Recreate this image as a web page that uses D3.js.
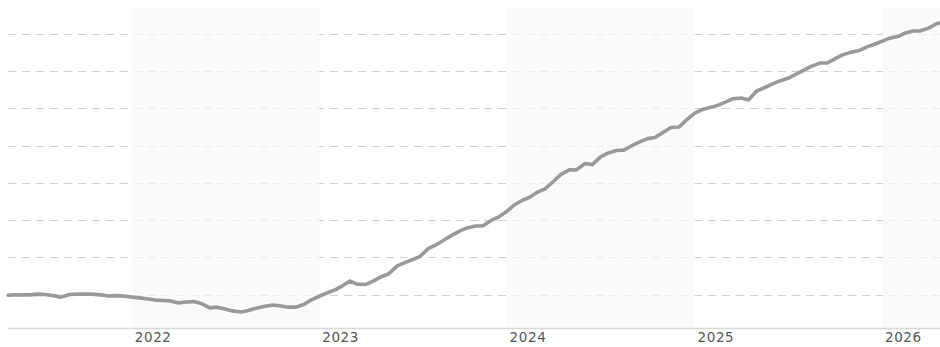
<!DOCTYPE html>
<html>
<head>
<meta charset="utf-8">
<script src="https://cdn.jsdelivr.net/npm/d3@7"></script>
<style>
  body { margin: 0; background: #fff; }
  svg { display: block; }
</style>
</head>
<body>
<div id="chart"></div>
<script>
// Dates of the readings (semi-monthly)
var dates = [
  "2021-05-04","2021-05-15","2021-06-01","2021-06-15","2021-07-01","2021-07-15","2021-08-01","2021-08-15",
  "2021-09-01","2021-09-15","2021-10-01","2021-10-15","2021-11-01","2021-11-15","2021-12-01","2021-12-15",
  "2022-01-01","2022-01-15","2022-02-01","2022-02-15","2022-03-01","2022-03-15","2022-04-01","2022-04-15",
  "2022-05-01","2022-05-15","2022-06-01","2022-06-15","2022-07-01","2022-07-15","2022-08-01","2022-08-15",
  "2022-09-01","2022-09-15","2022-10-01","2022-10-15","2022-11-01","2022-11-15","2022-12-01","2022-12-15",
  "2023-01-01","2023-01-15","2023-02-01","2023-02-15","2023-03-01","2023-03-15","2023-04-01","2023-04-15",
  "2023-05-01","2023-05-15","2023-06-01","2023-06-15","2023-07-01","2023-07-15","2023-08-01","2023-08-15",
  "2023-09-01","2023-09-15","2023-10-01","2023-10-15","2023-11-01","2023-11-15","2023-12-01","2023-12-15",
  "2024-01-01","2024-01-15","2024-02-01","2024-02-15","2024-03-01","2024-03-15","2024-04-01","2024-04-15",
  "2024-05-01","2024-05-15","2024-06-01","2024-06-15","2024-07-01","2024-07-15","2024-08-01","2024-08-15",
  "2024-09-01","2024-09-15","2024-10-01","2024-10-15","2024-11-01","2024-11-15","2024-12-01","2024-12-15",
  "2025-01-01","2025-01-15","2025-02-01","2025-02-15","2025-03-01","2025-03-15","2025-04-01","2025-04-15",
  "2025-05-01","2025-05-15","2025-06-01","2025-06-15","2025-07-01","2025-07-15","2025-08-01","2025-08-15",
  "2025-09-01","2025-09-15","2025-10-01","2025-10-15","2025-11-01","2025-11-15","2025-12-01","2025-12-15",
  "2026-01-01","2026-01-15","2026-02-01","2026-02-15","2026-03-01","2026-03-15","2026-04-01","2026-04-15",
  "2026-04-22"
];

// Cumulative change (%) at each date
var values = [
  -0.2, -0.1, -0.1, -0.1, 0.1, 0.0, -0.3, -0.7,
  0.0, 0.1, 0.1, 0.1, -0.1, -0.4, -0.3, -0.4,
  -0.7, -0.9, -1.2, -1.5, -1.6, -1.7, -2.3, -2.0,
  -1.9, -2.4, -3.6, -3.4, -3.9, -4.4, -4.7, -4.3,
  -3.6, -3.2, -2.8, -3.0, -3.4, -3.4, -2.7, -1.5,
  -0.4, 0.4, 1.3, 2.4, 3.6, 2.8, 2.7, 3.6,
  4.8, 5.5, 7.7, 8.5, 9.4, 10.2, 12.4, 13.3,
  14.7, 15.9, 17.1, 17.9, 18.4, 18.5, 19.9, 20.8,
  22.4, 24.1, 25.4, 26.2, 27.6, 28.4, 30.5, 32.3,
  33.5, 33.5, 35.2, 34.9, 37.0, 38.0, 38.7, 38.8,
  40.1, 41.0, 41.9, 42.2, 43.7, 44.9, 45.0, 46.9,
  48.8, 49.7, 50.3, 50.9, 51.7, 52.6, 52.8, 52.3,
  54.7, 55.5, 56.6, 57.4, 58.1, 59.1, 60.3, 61.3,
  62.2, 62.2, 63.4, 64.4, 65.1, 65.5, 66.5, 67.2,
  68.1, 68.9, 69.4, 70.3, 70.8, 70.8, 71.6, 72.7,
  73.0
];

// Horizontal grid values and shaded years
var gridValues = [0, 10, 20, 30, 40, 50, 60, 70];
var yearTicks = ["2022", "2023", "2024", "2025", "2026"];
var shadedYears = ["2022", "2024", "2026"];

var width = 940, height = 347;
var margin = { top: 8, right: 0, bottom: 19, left: 8 };

var parse = d3.timeParse("%Y-%m-%d");
var data = dates.map(function(d, i) {
  return { date: parse(d), value: values[i] };
});

var svg = d3.select("#chart")
  .append("svg")
  .attr("width", width)
  .attr("height", height);

var x = d3.scaleTime()
  .domain([parse("2021-05-04"), parse("2026-04-23")])
  .range([margin.left, width - margin.right]);

var y = d3.scaleLinear()
  .domain([-9, 77])
  .range([height - margin.bottom, margin.top]);

// Gridlines
svg.append("g")
  .selectAll("line")
  .data(gridValues)
  .enter().append("line")
  .attr("x1", margin.left)
  .attr("x2", width - margin.right)
  .attr("y1", function(d) { return Math.round(y(d)) + 0.5; })
  .attr("y2", function(d) { return Math.round(y(d)) + 0.5; })
  .attr("stroke", "#d0d0d0")
  .attr("stroke-width", 1)
  .attr("stroke-dasharray", "8,6");

// Shaded year bands (drawn over the grid, so the dashes look lighter)
svg.append("g")
  .selectAll("rect")
  .data(shadedYears)
  .enter().append("rect")
  .attr("x", function(d) { return x(new Date(+d, 0, 1)); })
  .attr("y", margin.top)
  .attr("width", function(d) {
    var x0 = x(new Date(+d, 0, 1));
    var x1 = Math.min(x(new Date(+d + 1, 0, 1)), width - margin.right);
    return x1 - x0;
  })
  .attr("height", height - margin.bottom - margin.top)
  .attr("fill", "#f8f8f8")
  .attr("fill-opacity", 0.7);

// Line
var line = d3.line()
  .x(function(d) { return x(d.date); })
  .y(function(d) { return y(d.value); });

svg.append("path")
  .datum(data)
  .attr("fill", "none")
  .attr("stroke", "#999999")
  .attr("stroke-width", 3.6)
  .attr("stroke-linejoin", "round")
  .attr("stroke-linecap", "round")
  .attr("d", line);

// Bottom axis
svg.append("line")
  .attr("x1", margin.left)
  .attr("x2", width)
  .attr("y1", height - margin.bottom + 0.5)
  .attr("y2", height - margin.bottom + 0.5)
  .attr("stroke", "#d8d8d8")
  .attr("stroke-width", 1.5);

svg.append("g")
  .selectAll("text")
  .data(yearTicks)
  .enter().append("text")
  .attr("x", function(d) { return x(new Date(+d, 0, 1)) + 2.5; })
  .attr("y", 342)
  .attr("fill", "#555")
  .attr("font-family", "DejaVu Sans, Verdana, sans-serif")
  .attr("font-size", "13.5px")
  .attr("letter-spacing", "0.6px")
  .text(function(d) { return d; });
</script>
</body>
</html>
